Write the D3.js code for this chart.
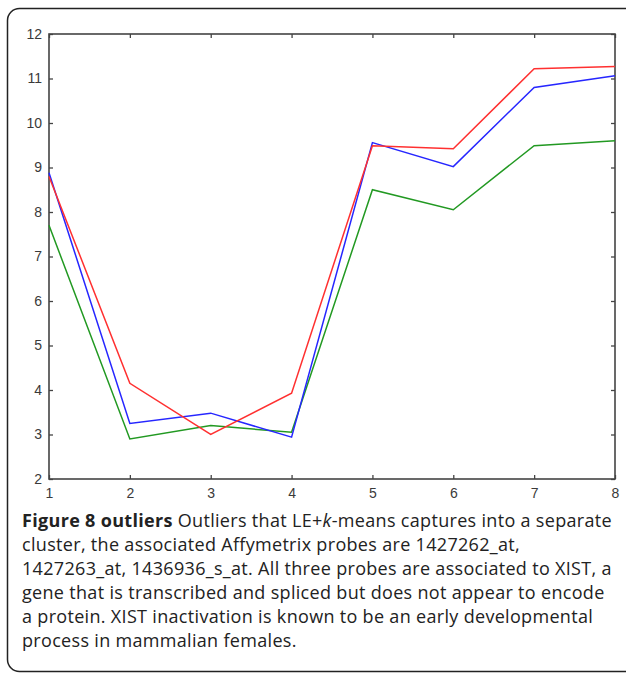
<!DOCTYPE html>
<html>
<head>
<meta charset="utf-8">
<script src="https://cdn.jsdelivr.net/npm/d3@7"></script>
<style>
  html, body { margin: 0; padding: 0; background: #fff; }
  svg { display: block; }
</style>
</head>
<body>
<svg id="chart" width="626" height="674"></svg>
<script>
const samples = [1, 2, 3, 4, 5, 6, 7, 8]
const probeRed = [8.8, 4.15, 3.0, 3.93, 9.49, 9.42, 11.22, 11.27]
const probeBlue = [8.88, 3.25, 3.48, 2.94, 9.56, 9.02, 10.8, 11.06]
const probeGreen = [7.7, 2.9, 3.2, 3.05, 8.5, 8.05, 9.49, 9.6]
const yTicks = [2, 3, 4, 5, 6, 7, 8, 9, 10, 11, 12]
const captionLines = [
    [{ t: 'Figure 8 outliers', b: true }, { t: ' Outliers that LE+' }, { t: 'k', i: true }, { t: '-means captures into a separate' }],
    [{ t: 'cluster, the associated Affymetrix probes are 1427262_at,' }],
    [{ t: '1427263_at, 1436936_s_at. All three probes are associated to XIST, a' }],
    [{ t: 'gene that is transcribed and spliced but does not appear to encode' }],
    [{ t: 'a protein. XIST inactivation is known to be an early developmental' }],
    [{ t: 'process in mammalian females.' }]
]

const svg = d3.select('#chart')
const margin = { left: 49, top: 34, right: 615, bottom: 479 }

// outer frame, runs off the right edge
svg.append('rect')
    .attr('x', 7.5).attr('y', 8.5)
    .attr('width', 640).attr('height', 663)
    .attr('rx', 12).attr('ry', 12)
    .attr('fill', 'none')
    .attr('stroke', '#222')
    .attr('stroke-width', 1.5)

const x = d3.scaleLinear().domain([1, 8]).range([margin.left, margin.right])
const y = d3.scaleLinear().domain([2, 12]).range([margin.bottom, margin.top])

const tickColour = '#444'

const styleAxis = g => {
    g.attr('font-size', 14).attr('font-family', '"Liberation Sans", Arial, sans-serif')
    g.select('.domain').remove()
    g.selectAll('line').attr('stroke', tickColour).attr('stroke-width', 1.3)
    g.selectAll('text').attr('fill', '#3a3a3a')
}

svg.append('g')
    .attr('transform', `translate(0, ${margin.bottom})`)
    .call(d3.axisBottom(x).tickValues(samples).tickSize(-4).tickPadding(9).tickFormat(d3.format('d')))
    .call(styleAxis)

svg.append('g')
    .attr('transform', `translate(0, ${margin.top})`)
    .call(d3.axisTop(x).tickValues(samples).tickSize(-4).tickFormat(''))
    .call(styleAxis)

svg.append('g')
    .attr('transform', `translate(${margin.left}, 0)`)
    .call(d3.axisLeft(y).tickValues(yTicks).tickSize(-4).tickPadding(7).tickFormat(d3.format('d')))
    .call(styleAxis)

svg.append('g')
    .attr('transform', `translate(${margin.right}, 0)`)
    .call(d3.axisRight(y).tickValues(yTicks).tickSize(-4).tickFormat(''))
    .call(styleAxis)

svg.append('rect')
    .attr('x', margin.left).attr('y', margin.top)
    .attr('width', margin.right - margin.left).attr('height', margin.bottom - margin.top)
    .attr('fill', 'none').attr('stroke', tickColour).attr('stroke-width', 1.6)

const line = d3.line().x((d, i) => x(samples[i])).y(d => y(d))

const series = [
    { values: probeGreen, colour: '#229922' },
    { values: probeBlue, colour: '#2626ff' },
    { values: probeRed, colour: '#ff3030' }
]

svg.append('g')
    .selectAll('path')
    .data(series)
    .join('path')
    .attr('d', d => line(d.values))
    .attr('fill', 'none')
    .attr('stroke', d => d.colour)
    .attr('stroke-width', 1.5)

// caption: fit the first line to the width in the reference, same spacing for the rest
const caption = svg.append('g')
    .attr('font-family', '"Open Sans", sans-serif')
    .attr('font-size', 18)
    .attr('fill', '#222')

const texts = captionLines.map((parts, i) => {
    const text = caption.append('text')
        .attr('x', 22)
        .attr('y', 527 + i * 24)
    parts.forEach(p => {
        text.append('tspan')
            .attr('font-weight', p.b ? 700 : 400)
            .attr('font-style', p.i ? 'italic' : 'normal')
            .text(p.t)
    })
    return text
})

const firstWidth = texts[0].node().getComputedTextLength()
const firstChars = captionLines[0].map(p => p.t).join('').length
const spacing = (590 - firstWidth) / firstChars
caption.attr('letter-spacing', spacing)
</script>
</body>
</html>
